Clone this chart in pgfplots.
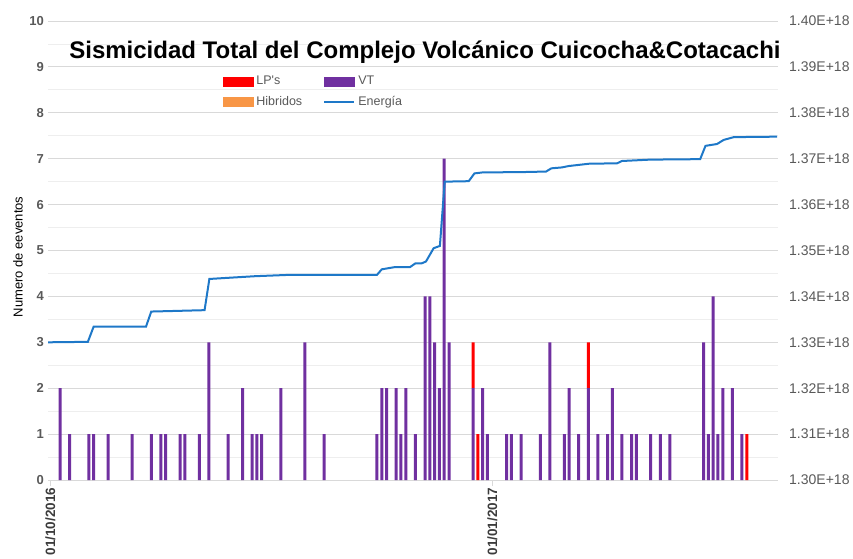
\documentclass[border=0pt]{standalone}
\usepackage{fontspec}
\setmainfont{Liberation Sans}
\usepackage{pgfplots}
\usepackage{pgfplotstable}
\pgfplotsset{compat=1.18}

\definecolor{vtPurple}{RGB}{112,48,160}
\definecolor{lpRed}{RGB}{255,0,0}
\definecolor{hibOrange}{RGB}{248,150,70}
\definecolor{enBlue}{RGB}{30,120,200}
\definecolor{gridMajor}{RGB}{217,217,217}
\definecolor{gridMinor}{RGB}{238,238,238}
\definecolor{tickGray}{RGB}{89,89,89}
\definecolor{dateGray}{RGB}{60,60,60}

% day 0 = 01/10/2016
\pgfplotstableread{
day VT LP HB
2   2 0 0
4   1 0 0
8   1 0 0
9   1 0 0
12  1 0 0
17  1 0 0
21  1 0 0
23  1 0 0
24  1 0 0
27  1 0 0
28  1 0 0
31  1 0 0
33  3 0 0
37  1 0 0
40  2 0 0
42  1 0 0
43  1 0 0
44  1 0 0
48  2 0 0
53  3 0 0
57  1 0 0
68  1 0 0
69  2 0 0
70  2 0 0
72  2 0 0
73  1 0 0
74  2 0 0
76  1 0 0
78  4 0 0
79  4 0 0
80  3 0 0
81  2 0 0
82  7 0 0
83  3 0 0
88  2 1 0
89  0 1 0
90  2 0 0
91  1 0 0
95  1 0 0
96  1 0 0
98  1 0 0
102 1 0 0
104 3 0 0
107 1 0 0
108 2 0 0
110 1 0 0
112 2 1 0
114 1 0 0
116 1 0 0
117 2 0 0
119 1 0 0
121 1 0 0
122 1 0 0
125 1 0 0
127 1 0 0
129 1 0 0
136 3 0 0
137 1 0 0
138 4 0 0
139 1 0 0
140 2 0 0
142 2 0 0
144 1 0 0
145 0 1 0
}\eventos

% energia en unidades de 1E+18
\pgfplotstableread{
day E
-0.5  1.3300
7.8   1.3301
9.0   1.3334
19.9  1.3334
21.0  1.3367
32.1  1.3370
33.1  1.3438
37.8  1.3441
42.6  1.3444
49.9  1.3447
68.0  1.3447
69.0  1.3459
71.8  1.3464
74.9  1.3464
76.0  1.3472
77.3  1.3472
78.2  1.3476
79.8  1.3505
81.1  1.3510
82.1  1.3650
87.1  1.3651
88.3  1.3668
89.9  1.3670
98.9  1.3671
103.2 1.3672
104.3 1.3679
106.5 1.3681
107.9 1.3684
112.1 1.3689
118.0 1.3690
119.0 1.3695
124.9 1.3698
135.3 1.3699
136.4 1.3728
138.8 1.3732
140.2 1.3741
142.3 1.3747
151.3 1.3748
}\energia

\begin{document}
\begin{tikzpicture}[x=1pt,y=1pt]
\path[use as bounding box] (0,0) rectangle (853,558);

\begin{axis}[
    at={(48pt,78pt)}, anchor=south west,
    scale only axis, width=730pt, height=459pt,
    xmin=-0.5, xmax=151.5, ymin=0, ymax=10,
    ybar stacked, bar width=3pt,
    axis x line*=bottom, axis y line*=left,
    x axis line style={-, draw=gridMajor, line width=0.9pt},
    y axis line style={draw=none},
    xtick={0,92}, xticklabels={01/10/2016,01/01/2017},
    xtick style={draw=gridMajor, line width=0.9pt},
    tick align=outside, major tick length=6pt,
    xticklabel style={rotate=90, anchor=east, inner ysep=0pt, inner xsep=3pt, xshift=1.5pt,
        font=\fontsize{13.5}{13.5}\selectfont\bfseries, text=dateGray},
    ytick={0,...,10}, minor y tick num=1,
    ytick style={draw=none},
    yticklabel style={inner sep=0pt, xshift=2pt,
        font=\fontsize{13}{13}\selectfont\bfseries, text=tickGray},
    /pgf/number format/assume math mode=true,
    ymajorgrids, yminorgrids,
    major grid style={gridMajor, line width=0.9pt},
    minor grid style={gridMinor, line width=0.9pt},
    ylabel={Numero de eeventos},
    ylabel style={at={(axis description cs:-0.041,0.486)}, anchor=center,
        font=\fontsize{13}{13}\selectfont, text=black},
    legend columns=2,
    legend cell align=left,
    legend style={at={(0.2397,0.881)}, anchor=north west,
        draw=none, fill=none, inner sep=0pt, outer sep=0pt,
        row sep=8.5pt, column sep=0pt,
        font=\fontsize{12.5}{12.5}\selectfont, text=tickGray,
        nodes={inner sep=0pt, text width=67pt, text height=9pt, text depth=3pt},
        /tikz/every odd column/.append style={column sep=3pt}},
]
\addplot[fill=vtPurple, draw=none, forget plot] table[x=day, y=VT] {\eventos};
\addplot[fill=lpRed, draw=none, forget plot] table[x=day, y=LP] {\eventos};
\addplot[fill=hibOrange, draw=none, forget plot] table[x=day, y=HB] {\eventos};

\addlegendimage{legend image code/.code={\fill[lpRed] (0pt,-4.5pt) rectangle (30pt,4.5pt);}}
\addlegendentry{LP\textquotesingle s}
\addlegendimage{legend image code/.code={\fill[vtPurple] (0pt,-4.5pt) rectangle (30pt,4.5pt);}}
\addlegendentry{VT}
\addlegendimage{legend image code/.code={\fill[hibOrange] (0pt,-4.5pt) rectangle (30pt,4.5pt);}}
\addlegendentry{Hibridos}
\addlegendimage{legend image code/.code={\draw[enBlue, line width=2pt] (0pt,0pt) -- (30pt,0pt); \path[draw=none, fill=none] (0pt,-4.5pt) -- (0pt,4.5pt);}}
\addlegendentry{Energía}
\end{axis}

\begin{axis}[
    at={(48pt,78pt)}, anchor=south west,
    scale only axis, width=730pt, height=459pt,
    xmin=-0.5, xmax=151.5, ymin=1.30, ymax=1.40,
    axis x line=none, axis y line*=right,
    y axis line style={draw=none},
    ytick={1.30,1.31,1.32,1.33,1.34,1.35,1.36,1.37,1.38,1.39,1.40},
    yticklabels={1.30E+18,1.31E+18,1.32E+18,1.33E+18,1.34E+18,1.35E+18,1.36E+18,1.37E+18,1.38E+18,1.39E+18,1.40E+18},
    ytick style={draw=none},
    tick align=outside, major tick length=6pt,
    yticklabel style={anchor=west, inner sep=0pt, xshift=5pt,
        font=\fontsize{14}{14}\selectfont, text=tickGray},
]
\addplot[enBlue, line width=2pt, no marks] table[x=day, y=E] {\energia};
\end{axis}

\node[anchor=base, font=\fontsize{24}{24}\selectfont\bfseries]
    at (425,499) {Sismicidad Total del Complejo Volcánico Cuicocha\&Cotacachi};
\end{tikzpicture}
\end{document}
